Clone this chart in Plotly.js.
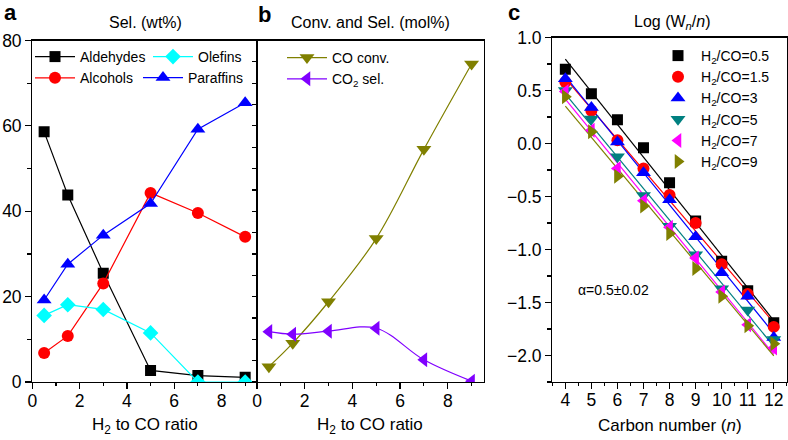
<!DOCTYPE html>
<html><head><meta charset="utf-8">
<script src="https://cdn.plot.ly/plotly-3.0.1.min.js"></script>
<style>html,body{margin:0;padding:0;background:#fff}#chart{width:788px;height:440px}</style>
</head><body><div id="chart"></div>
<script>
// ---- Data ----
const ratio = [0.5, 1.5, 3, 5, 7, 9];
const aldehydes = [58.6, 43.8, 25.5, 2.7, 1.5, 1.1];
const alcohols = [6.8, 10.8, 23.1, 44.3, 39.6, 34.0];
const olefins = [15.6, 18.1, 17.0, 11.5, 0, 0];
const paraffins = [19.2, 27.6, 34.4, 41.8, 59.2, 65.4];
const coConv = [3.6, 9.1, 18.8, 33.6, 54.5, 74.5];
const co2Sel = [11.8, 11.2, 11.9, 12.6, 5.2, 0.2];

const carbonNumber = [4, 5, 6, 7, 8, 9, 10, 11, 12];
const ratioLabels = ['0.5', '1.5', '3', '5', '7', '9'];
const logW_r05 = [0.70, 0.47, 0.225, -0.04, -0.37, -0.73, -1.11, -1.39, -1.69];
const logW_r15 = [0.58, 0.31, 0.03, -0.235, -0.485, -0.75, -1.14, -1.42, -1.73];
const logW_r3  = [0.61, 0.34, 0.015, -0.275, -0.53, -0.88, -1.22, -1.44, -1.83];
const logW_r5  = [0.50, 0.23, -0.125, -0.49, -0.78, -1.05, -1.37, -1.57, -1.85];
const logW_r7  = [0.49, 0.125, -0.235, -0.54, -0.79, -1.08, -1.40, -1.71, -1.93];
const logW_r9  = [0.44, 0.11, -0.31, -0.59, -0.85, -1.18, -1.44, -1.72, -1.89];

// ---- Styling ----
const FONT = 'Liberation Sans, Arial, Helvetica, sans-serif';
const W = 788, H = 440;
const px = v => v / W;
const py = v => 1 - v / H;

const cBlack = '#000000', cRed = '#ff0000', cCyan = '#00ffff', cBlue = '#0000ff';
const cOlive = '#808000', cPurple = '#8000ff', cTeal = '#008080', cMagenta = '#ff00ff';

function lineTrace(x, y, name, color, symbol, size, xa, ya, legend, shape) {
  return {
    x: x, y: y, name: name, type: 'scatter', mode: 'lines+markers',
    xaxis: xa, yaxis: ya, legend: legend, cliponaxis: true,
    line: {color: color, width: 1.2, shape: shape || 'linear', smoothing: 1},
    marker: {symbol: symbol, size: size, color: color}
  };
}

function fit(xs, ys) {
  const n = xs.length;
  const mx = xs.reduce((a, b) => a + b, 0) / n;
  const my = ys.reduce((a, b) => a + b, 0) / n;
  let sxy = 0, sxx = 0;
  for (let i = 0; i < n; i++) { sxy += (xs[i] - mx) * (ys[i] - my); sxx += (xs[i] - mx) ** 2; }
  const m = sxy / sxx, b = my - m * mx;
  const x0 = xs[0], x1 = xs[n - 1];
  return {x: [x0, x1], y: [m * x0 + b, m * x1 + b]};
}

const traces = [
  lineTrace(ratio, aldehydes, 'Aldehydes', cBlack, 'square', 11, 'x', 'y', 'legend'),
  lineTrace(ratio, alcohols, 'Alcohols', cRed, 'circle', 12, 'x', 'y', 'legend'),
  lineTrace(ratio, olefins, 'Olefins', cCyan, 'diamond', 12, 'x', 'y', 'legend2'),
  lineTrace(ratio, paraffins, 'Paraffins', cBlue, 'triangle-up', 13, 'x', 'y', 'legend3'),
  lineTrace(ratio, coConv, 'CO conv.', cOlive, 'triangle-down', 13, 'x2', 'y2', 'legend4', 'spline'),
  lineTrace(ratio, co2Sel, 'CO<sub>2</sub> sel.', cPurple, 'triangle-left', 13, 'x2', 'y2', 'legend4', 'spline')
];

const cSeries = [
  [logW_r05, cBlack, 'square', 11],
  [logW_r15, cRed, 'circle', 12],
  [logW_r3, cBlue, 'triangle-up', 13],
  [logW_r5, cTeal, 'triangle-down', 13],
  [logW_r7, cMagenta, 'triangle-left', 13],
  [logW_r9, cOlive, 'triangle-right', 13]
];
cSeries.forEach((s, i) => {
  const f = fit(carbonNumber, s[0]);
  traces.push({x: f.x, y: f.y, type: 'scatter', mode: 'lines', xaxis: 'x3', yaxis: 'y3',
    line: {color: s[1], width: 1.2}, showlegend: false, hoverinfo: 'skip'});
});
cSeries.forEach((s, i) => {
  traces.push({x: carbonNumber, y: s[0], type: 'scatter', mode: 'markers', xaxis: 'x3', yaxis: 'y3',
    name: 'H<sub>2</sub>/CO=' + ratioLabels[i], legend: 'legend5',
    marker: {symbol: s[2], size: s[3], color: s[1]}});
});

const tickFont = {family: FONT, size: 17.5, color: '#000'};
const baseAxis = {
  showline: true, linecolor: '#000', linewidth: 1.2, mirror: true,
  ticks: 'outside', ticklen: 6, tickwidth: 1.2, tickcolor: '#000',
  showgrid: false, zeroline: false, tickfont: tickFont, fixedrange: true
};
const minor = (d, len) => ({ticks: 'outside', dtick: d, ticklen: len || 3, tickwidth: 1.2, tickcolor: '#000', showgrid: false});

const yDomAB = [py(382), py(40.5)];
const yDomC = [py(382), py(37.5)];

const legendBase = {font: {family: FONT, size: 14, color: '#000'}, bgcolor: 'rgba(0,0,0,0)',
  xanchor: 'left', yanchor: 'top', tracegroupgap: 0, itemclick: false, itemdoubleclick: false};

function ann(text, x, y, size) {
  return {text: text, x: px(x), y: py(y), xref: 'paper', yref: 'paper', xanchor: 'center', yanchor: 'middle',
    showarrow: false, font: {family: FONT, size: size, color: '#000'}};
}

const layout = {
  width: W, height: H,
  margin: {l: 0, r: 0, t: 0, b: 0},
  paper_bgcolor: '#fff', plot_bgcolor: '#fff',
  font: {family: FONT, color: '#000'},
  xaxis: Object.assign({}, baseAxis, {domain: [px(32.3), px(257)], range: [0, 9.5], dtick: 2, tick0: 0, minor: minor(1), anchor: 'y', ticklabelstandoff: -3}),
  yaxis: Object.assign({}, baseAxis, {domain: yDomAB, range: [0, 80], dtick: 20, tick0: 0, minor: minor(10, 4), anchor: 'x'}),
  xaxis2: Object.assign({}, baseAxis, {domain: [px(257), px(483.5)], range: [0, 9.5], dtick: 2, tick0: 0, minor: minor(1), anchor: 'y2', ticklabelstandoff: -3}),
  yaxis2: Object.assign({}, baseAxis, {domain: yDomAB, range: [0, 80], dtick: 5, tick0: 0, ticklen: 4, showticklabels: false, anchor: 'x2'}),
  xaxis3: Object.assign({}, baseAxis, {domain: [px(552.3), px(786.8)], range: [3.5, 12.5], dtick: 1, tick0: 0, minor: minor(0.5), anchor: 'y3', ticklabelstandoff: -4}),
  yaxis3: Object.assign({}, baseAxis, {domain: yDomC, range: [-2.25, 1.0], dtick: 0.5, tick0: 0, tickformat: '.1f', minor: minor(0.25, 4), anchor: 'x3'}),
  legend: Object.assign({}, legendBase, {x: px(30), y: py(41), itemwidth: 40}),
  legend2: Object.assign({}, legendBase, {x: px(148), y: py(41), itemwidth: 40}),
  legend3: Object.assign({}, legendBase, {x: px(138), y: py(62), itemwidth: 40}),
  legend4: Object.assign({}, legendBase, {x: px(282), y: py(42), itemwidth: 40}),
  legend5: Object.assign({}, legendBase, {x: px(655), y: py(40), itemwidth: 36}),
  annotations: [
    ann('<b>a</b>', 10, 13, 22),
    ann('<b>b</b>', 264, 14, 22),
    ann('<b>c</b>', 514, 13, 22),
    ann('Sel. (wt%)', 145, 23, 16),
    ann('Conv. and Sel. (mol%)', 370, 23, 16),
    ann('Log (W<sub><i>n</i></sub>/<i>n</i>)', 672, 23, 16),
    ann('H<sub>2</sub> to CO ratio', 145, 426, 17),
    ann('H<sub>2</sub> to CO ratio', 370, 426, 17),
    ann('Carbon number (<i>n</i>)', 670, 425, 17),
    ann('α=0.5±0.02', 613, 290, 14)
  ]
};

Plotly.newPlot('chart', traces, layout, {staticPlot: true, displayModeBar: false});
</script></body></html>
